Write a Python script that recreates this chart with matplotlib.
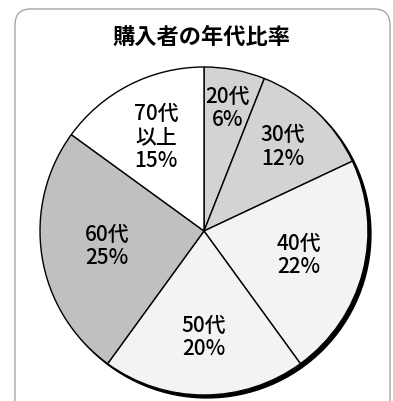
import numpy as np
import matplotlib
matplotlib.use("Agg")
import matplotlib.pyplot as plt
from matplotlib.patches import FancyBboxPatch, Circle

plt.rcParams['font.family'] = ['Noto Sans CJK JP', 'DejaVu Sans']

# === データ ===
title = "購入者の年代比率"
labels = ["20代", "30代", "40代", "50代", "60代", "70代\n以上"]
shares = [6, 12, 22, 20, 25, 15]
colors = ["#d3d3d3", "#d3d3d3", "#f3f3f3", "#f3f3f3", "#c0c0c0", "#ffffff"]
label_r = [0.76, 0.70, 0.60, 0.65, 0.60, 0.64]

fig = plt.figure(figsize=(3.93, 4.01), dpi=100)

# 角丸の枠
frame = FancyBboxPatch((15 / 393, -0.05), 375 / 393, (401 - 9) / 401 + 0.05,
                       boxstyle="round,pad=0,rounding_size=0.04",
                       transform=fig.transFigure, facecolor="none",
                       edgecolor="#a6a6a6", linewidth=1.0, zorder=-1)
fig.patches.append(frame)

fig.text(202 / 393, 1 - 37 / 401, title, ha="center", va="center",
         fontsize=16, fontweight="bold")

ax = fig.add_axes([40 / 393, 6 / 401, 328 / 393, 328 / 401])

# 影
shadow = Circle((0.018, -0.018), 1.0, color="black", zorder=0, clip_on=False)
ax.add_patch(shadow)

wedges, _ = ax.pie(shares, colors=colors, startangle=90, counterclock=False,
                   radius=1.0,
                   wedgeprops=dict(edgecolor="black", linewidth=1.0))
for w in wedges:
    w.set_zorder(1)
    w.set_clip_on(False)

for w, lab, s, r in zip(wedges, labels, shares, label_r):
    ang = np.deg2rad((w.theta1 + w.theta2) / 2)
    ax.text(r * np.cos(ang), r * np.sin(ang), f"{lab}\n{s}%",
            ha="center", va="center", fontsize=15, fontweight="medium",
            linespacing=1.1, zorder=3)

ax.set_xlim(-1, 1)
ax.set_ylim(-1, 1)
ax.set_aspect("equal")
ax.axis("off")

fig.savefig("out.png", dpi=100)
